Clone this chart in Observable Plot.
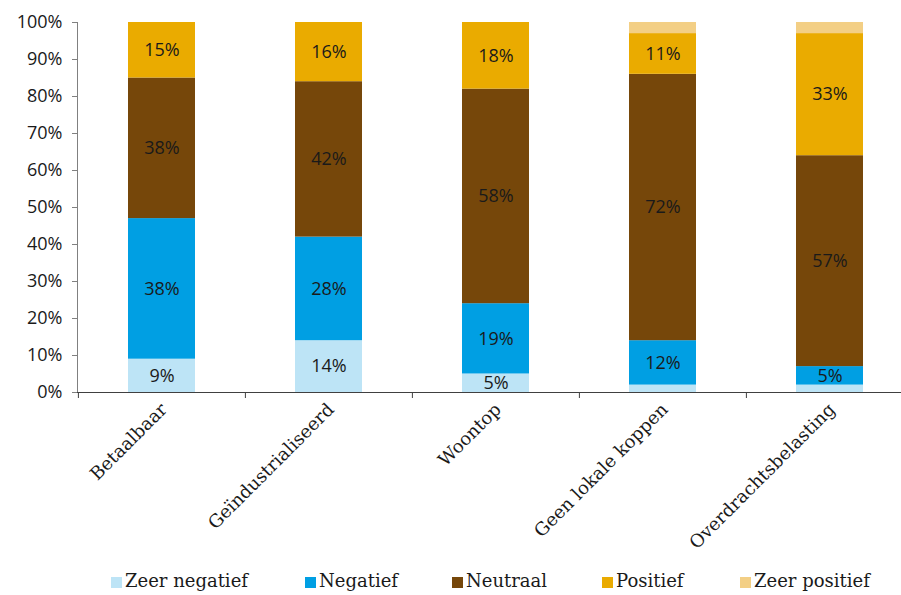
<!DOCTYPE html>
<html>
<head>
<meta charset="utf-8">
<script src="https://cdn.jsdelivr.net/npm/d3@7"></script>
<script src="https://cdn.jsdelivr.net/npm/@observablehq/plot@0.6"></script>
<style>
  body { margin: 0; background: #fff; }
  #wrap { position: relative; width: 901px; height: 595px; }
  #legend { position: absolute; top: 570px; left: 0; width: 901px; height: 26px; font-family: "DejaVu Serif", serif; font-size: 18px; color: #1a1a1a; }
  .item { position: absolute; top: 0; display: flex; align-items: center; white-space: nowrap; }
  .sw { width: 11px; height: 11px; margin-right: 3px; margin-top: 4px; }
</style>
</head>
<body>
<div id="wrap"><div id="chart"></div><div id="legend"></div></div>
<script>
const categories = ["Betaalbaar", "Geïndustrialiseerd", "Woontop", "Geen lokale koppen", "Overdrachtsbelasting"];
const series = ["Zeer negatief", "Negatief", "Neutraal", "Positief", "Zeer positief"];
const colors = ["#BDE4F6", "#009FE3", "#76470A", "#EAAB00", "#F3CF85"];
const zeerNegatief = [9, 14, 5, 2, 2];
const negatief     = [38, 28, 19, 12, 5];
const neutraal     = [38, 42, 58, 72, 57];
const positief     = [15, 16, 18, 11, 33];
const zeerPositief = [0, 0, 0, 3, 3];
const yTicks = [0, 0.1, 0.2, 0.3, 0.4, 0.5, 0.6, 0.7, 0.8, 0.9, 1];

const seriesValues = [zeerNegatief, negatief, neutraal, positief, zeerPositief];
const data = [];
series.forEach((s, si) => categories.forEach((c, ci) => data.push({cat: c, series: s, value: seriesValues[si][ci] / 100})));

const xRange = [77, 913];
const step = (xRange[1] - xRange[0]) / categories.length;

const chart = Plot.plot({
  width: 901,
  height: 560,
  marginTop: 22,
  marginBottom: 168,
  marginLeft: 77,
  marginRight: 0,
  style: {fontFamily: "'Open Sans', sans-serif", fontSize: "17px", color: "#1a1a1a", overflow: "hidden"},
  x: {domain: categories, range: xRange, paddingInner: 0.6, paddingOuter: 0.3, label: null},
  y: {domain: [0, 1], label: null},
  color: {domain: series, range: colors},
  marks: [
    Plot.barY(data, Plot.stackY({x: "cat", y: "value", z: "series", fill: "series", order: series})),
    Plot.text(data, Plot.stackY({x: "cat", y: "value", z: "series", order: series,
      text: d => d.value >= 0.045 ? Math.round(d.value * 100) + "%" : null,
      fill: "#1a1a1a", fontSize: 18, fontFamily: "'Open Sans', sans-serif"})),
    Plot.axisY({ticks: yTicks, tickFormat: d => Math.round(d * 100) + "%", tickSize: 5, tickPadding: 10, stroke: "#808080", fontSize: 18, fontFamily: "'Open Sans', sans-serif", label: null}),
    Plot.axisX({tickSize: 6, tickFormat: () => "", dx: -step / 2, stroke: "#404040", label: null}),
    Plot.axisX({tickSize: 0, tickRotate: -45, tickPadding: 14, dx: 2, fontFamily: "DejaVu Serif, serif", fontSize: 18, label: null}),
    Plot.frame({anchor: "left", stroke: "#808080"}),
    Plot.frame({anchor: "bottom", stroke: "#404040"})
  ]
});
document.getElementById("chart").appendChild(chart);

const lefts = [111, 305, 452, 602, 740];
const legend = document.getElementById("legend");
series.forEach((s, i) => {
  const it = document.createElement("div");
  it.className = "item";
  it.style.left = lefts[i] + "px";
  it.innerHTML = `<span class="sw" style="background:${colors[i]}"></span><span>${s}</span>`;
  legend.appendChild(it);
});
</script>
</body>
</html>
